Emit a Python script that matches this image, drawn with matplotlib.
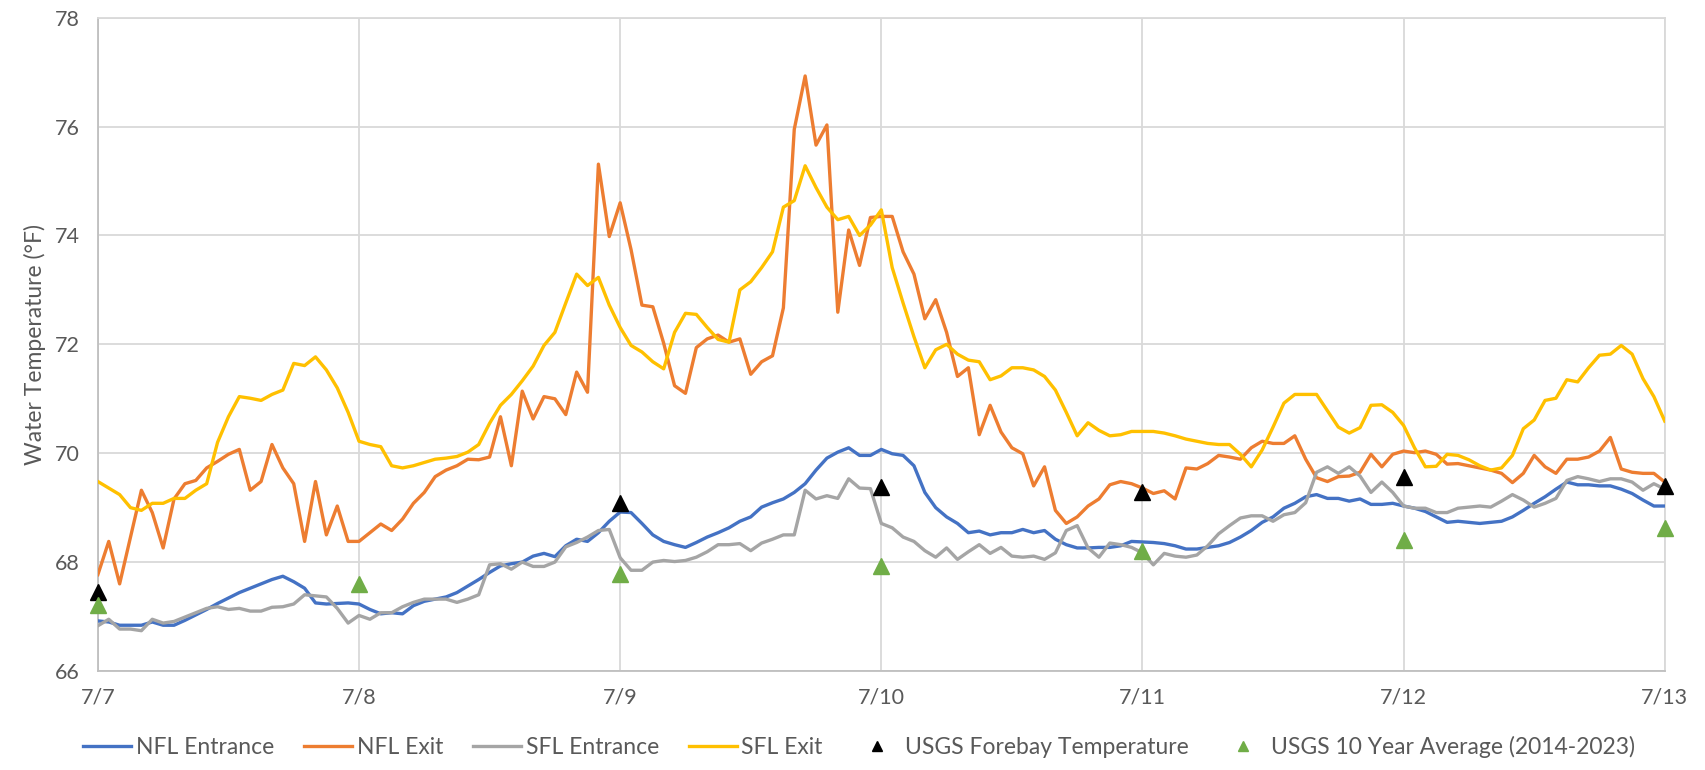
import matplotlib
matplotlib.use("Agg")
import matplotlib.pyplot as plt
import numpy as np

plt.rcParams["font.family"] = ["Lato", "DejaVu Sans"]

# hourly readings, 7/7 00:00 -> 7/13 00:00
nfl_entrance = [
    66.92, 66.90, 66.84, 66.84, 66.84, 66.90, 66.84, 66.84, 66.93, 67.03, 67.13, 67.24,
    67.34, 67.44, 67.52, 67.60, 67.68, 67.74, 67.64, 67.52, 67.25, 67.23, 67.24, 67.25, 67.23,
    67.13, 67.05, 67.07, 67.05, 67.20, 67.28, 67.32, 67.36, 67.44, 67.56, 67.68, 67.81,
    67.93, 67.97, 68.00, 68.11, 68.16, 68.10, 68.30, 68.42, 68.38, 68.54, 68.75, 68.92,
    68.91, 68.71, 68.50, 68.38, 68.32, 68.27, 68.36, 68.46, 68.54, 68.63, 68.75, 68.83,
    69.01, 69.09, 69.16, 69.28, 69.44, 69.69, 69.91, 70.02, 70.10, 69.96, 69.96, 70.07,
    69.99, 69.96, 69.77, 69.28, 69.00, 68.83, 68.71, 68.54, 68.57, 68.50, 68.54, 68.54,
    68.60, 68.54, 68.58, 68.42, 68.32, 68.26, 68.26, 68.27, 68.27, 68.30, 68.38, 68.37,
    68.36, 68.34, 68.30, 68.24, 68.24, 68.27, 68.30, 68.36, 68.46, 68.58, 68.73, 68.83,
    68.99, 69.08, 69.20, 69.24, 69.17, 69.17, 69.12, 69.16, 69.06, 69.06, 69.08, 69.03,
    68.99, 68.93, 68.83, 68.73, 68.75, 68.73, 68.71, 68.73, 68.75, 68.83, 68.95, 69.08,
    69.20, 69.34, 69.47, 69.42, 69.42, 69.40, 69.40, 69.34, 69.26, 69.14, 69.03, 69.03,
]
nfl_exit = [
    67.77, 68.38, 67.60, 68.46, 69.32, 68.91, 68.26, 69.16, 69.44, 69.50, 69.73, 69.85,
    69.98, 70.07, 69.32, 69.48, 70.16, 69.73, 69.44, 68.38, 69.48, 68.50, 69.03, 68.38, 68.38,
    68.54, 68.70, 68.58, 68.79, 69.08, 69.28, 69.57, 69.69, 69.77, 69.89, 69.88, 69.93,
    70.67, 69.77, 71.14, 70.63, 71.04, 71.00, 70.71, 71.49, 71.12, 75.31, 73.98, 74.60,
    73.74, 72.72, 72.69, 72.02, 71.24, 71.10, 71.94, 72.10, 72.17, 72.04, 72.10, 71.45,
    71.68, 71.79, 72.67, 75.95, 76.93, 75.66, 76.03, 72.59, 74.10, 73.45, 74.33, 74.35,
    74.35, 73.70, 73.29, 72.47, 72.82, 72.22, 71.41, 71.57, 70.34, 70.88, 70.39, 70.10,
    69.99, 69.40, 69.75, 68.95, 68.71, 68.83, 69.03, 69.16, 69.42, 69.48, 69.44, 69.36,
    69.26, 69.31, 69.16, 69.73, 69.71, 69.81, 69.96, 69.93, 69.89, 70.10, 70.22, 70.18,
    70.18, 70.32, 69.89, 69.55, 69.48, 69.57, 69.58, 69.65, 69.98, 69.75, 69.98, 70.04,
    70.01, 70.04, 69.98, 69.80, 69.81, 69.77, 69.73, 69.69, 69.63, 69.46, 69.63, 69.96,
    69.75, 69.63, 69.89, 69.89, 69.93, 70.04, 70.29, 69.71, 69.65, 69.63, 69.63, 69.47,
]
sfl_entrance = [
    66.83, 66.95, 66.77, 66.77, 66.74, 66.95, 66.88, 66.91, 66.99, 67.07, 67.15, 67.18,
    67.13, 67.15, 67.10, 67.10, 67.17, 67.18, 67.23, 67.40, 67.38, 67.36, 67.15, 66.88, 67.02,
    66.95, 67.07, 67.07, 67.18, 67.26, 67.32, 67.32, 67.32, 67.26, 67.32, 67.40, 67.95,
    67.97, 67.87, 68.00, 67.92, 67.92, 68.00, 68.28, 68.36, 68.46, 68.58, 68.60, 68.08,
    67.85, 67.85, 68.00, 68.03, 68.01, 68.03, 68.09, 68.19, 68.32, 68.32, 68.34, 68.21,
    68.35, 68.42, 68.50, 68.50, 69.32, 69.16, 69.22, 69.17, 69.53, 69.36, 69.35, 68.71,
    68.63, 68.46, 68.38, 68.21, 68.09, 68.26, 68.05, 68.19, 68.32, 68.16, 68.27, 68.11,
    68.09, 68.11, 68.05, 68.17, 68.58, 68.67, 68.26, 68.09, 68.35, 68.32, 68.27, 68.17,
    67.95, 68.16, 68.11, 68.09, 68.13, 68.30, 68.52, 68.67, 68.81, 68.85, 68.85, 68.75,
    68.87, 68.91, 69.09, 69.65, 69.75, 69.63, 69.75, 69.58, 69.28, 69.47, 69.28, 69.03,
    68.99, 68.99, 68.91, 68.91, 68.99, 69.01, 69.03, 69.01, 69.12, 69.24, 69.14, 69.01,
    69.08, 69.17, 69.50, 69.57, 69.53, 69.48, 69.53, 69.53, 69.47, 69.32, 69.44, 69.34,
]
sfl_exit = [
    69.48, 69.36, 69.24, 69.00, 68.95, 69.08, 69.08, 69.17, 69.17, 69.32, 69.44, 70.20,
    70.67, 71.04, 71.01, 70.97, 71.08, 71.16, 71.65, 71.61, 71.77, 71.53, 71.20, 70.75, 70.22,
    70.16, 70.12, 69.77, 69.73, 69.77, 69.83, 69.89, 69.91, 69.94, 70.02, 70.16, 70.55,
    70.88, 71.08, 71.33, 71.60, 71.98, 72.22, 72.76, 73.29, 73.08, 73.23, 72.72, 72.31,
    71.98, 71.86, 71.68, 71.55, 72.22, 72.57, 72.55, 72.31, 72.09, 72.04, 73.00, 73.15,
    73.41, 73.70, 74.52, 74.64, 75.28, 74.88, 74.52, 74.29, 74.35, 74.00, 74.19, 74.47,
    73.41, 72.76, 72.14, 71.57, 71.90, 72.00, 71.82, 71.71, 71.68, 71.35, 71.42, 71.57,
    71.57, 71.53, 71.41, 71.16, 70.75, 70.32, 70.56, 70.42, 70.32, 70.34, 70.40, 70.40,
    70.40, 70.37, 70.32, 70.26, 70.22, 70.18, 70.16, 70.16, 69.98, 69.75, 70.06, 70.48,
    70.92, 71.08, 71.08, 71.08, 70.78, 70.48, 70.37, 70.47, 70.88, 70.89, 70.75, 70.51,
    70.10, 69.75, 69.76, 69.98, 69.96, 69.88, 69.77, 69.69, 69.73, 69.96, 70.45, 70.61,
    70.97, 71.01, 71.35, 71.31, 71.57, 71.80, 71.82, 71.98, 71.82, 71.37, 71.04, 70.59,
]

forebay_hours = [0, 48, 72, 96, 120, 144]
forebay_temp = [67.45, 69.08, 69.38, 69.28, 69.57, 69.40]
avg_hours = [0, 24, 48, 72, 96, 120, 144]
avg_temp = [67.22, 67.60, 67.78, 67.93, 68.20, 68.40, 68.63]

day_labels = ["7/7", "7/8", "7/9", "7/10", "7/11", "7/12", "7/13"]

series = [
    ("NFL Entrance", nfl_entrance, "#4472C4"),
    ("NFL Exit", nfl_exit, "#ED7D31"),
    ("SFL Entrance", sfl_entrance, "#A5A5A5"),
    ("SFL Exit", sfl_exit, "#FFC000"),
]

fig = plt.figure(figsize=(17.05, 7.7), dpi=100)
ax = fig.add_axes([0.0574, 0.1286, 0.9190, 0.8484])

for name, vals, col in series:
    ax.plot(np.arange(len(vals)), vals, color=col, lw=2.4, label=name, zorder=3)

ax.plot(forebay_hours, forebay_temp, "^", color="black", ms=11, ls="none",
        label="USGS Forebay Temperature", zorder=4, clip_on=False)
ax.plot(avg_hours, avg_temp, "^", color="#70AD47", ms=11, ls="none",
        label="USGS 10 Year Average (2014-2023)", zorder=5, clip_on=False)

ax.set_xlim(0, 144)
ax.set_ylim(66, 78)
ax.set_xticks(np.arange(0, 145, 24))
ax.set_xticklabels(day_labels)
ax.set_yticks(np.arange(66, 79, 2))
ax.grid(True, color="#D9D9D9", lw=1.3, zorder=0)
ax.set_axisbelow(True)
for s in ax.spines.values():
    s.set_color("#D9D9D9")
    s.set_linewidth(1.3)
ax.spines["left"].set_color("#BFBFBF")
ax.spines["bottom"].set_color("#BFBFBF")
ax.tick_params(axis="both", length=0, labelsize=15.5, colors="#595959")
ax.tick_params(axis="x", pad=12)
ax.tick_params(axis="y", pad=13)
ax.set_ylabel("Water Temperature (°F)", fontsize=16.5, color="#595959", labelpad=6)

handles, labels = ax.get_legend_handles_labels()
fig.legend(handles, labels, loc="lower center", bbox_to_anchor=(0.504, -0.011), ncol=6,
           frameon=False, fontsize=16.5, labelcolor="#595959", handlelength=2.1,
           columnspacing=1.3, handletextpad=0.2, markerscale=0.65)

fig.savefig("out.png", dpi=100)
